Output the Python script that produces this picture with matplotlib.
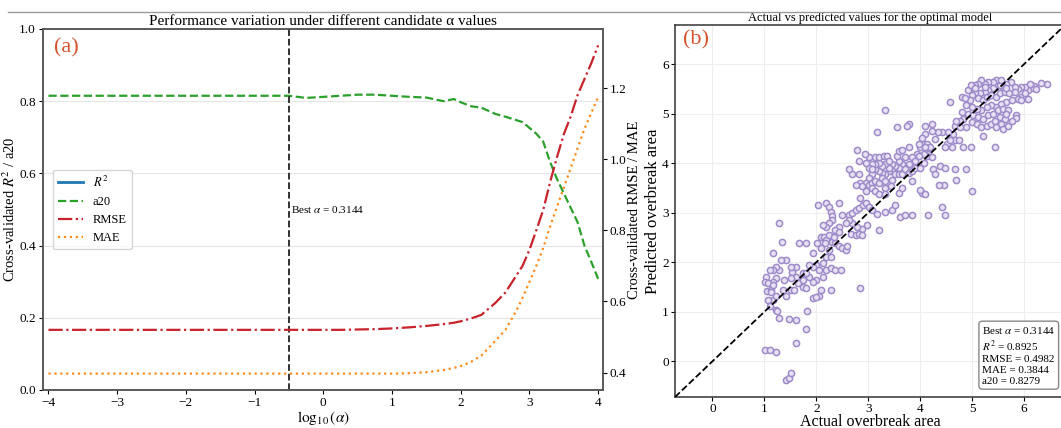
import numpy as np
import matplotlib
matplotlib.use("Agg")
import matplotlib.pyplot as plt
from matplotlib.lines import Line2D

plt.rcParams["font.family"] = ["Liberation Serif", "DejaVu Serif"]
plt.rcParams["mathtext.fontset"] = "stix"

# regularisation sweep (log10 alpha) and cross-validated scores
log_alpha = [-4, -3, -2, -1, -0.5, -0.25, 0, 0.25, 0.5, 0.75, 1.0, 1.25, 1.5, 1.75, 1.9,
             2.0, 2.15, 2.3, 2.5, 2.65, 2.8, 2.9, 3.0, 3.1, 3.2, 3.3, 3.4, 3.5, 3.6, 3.7,
             3.8, 3.9, 4.0]
cv_a20 = [0.815, 0.815, 0.815, 0.815, 0.815, 0.809, 0.812, 0.815, 0.818, 0.818, 0.815,
          0.812, 0.810, 0.800, 0.806, 0.797, 0.786, 0.782, 0.765, 0.757, 0.748, 0.742,
          0.726, 0.710, 0.688, 0.632, 0.585, 0.545, 0.505, 0.465, 0.400, 0.355, 0.308]
cv_rmse = [0.520, 0.520, 0.520, 0.520, 0.520, 0.520, 0.520, 0.520, 0.521, 0.522, 0.524,
           0.527, 0.531, 0.536, 0.540, 0.544, 0.552, 0.562, 0.595, 0.625, 0.670, 0.700,
           0.745, 0.800, 0.857, 0.935, 1.005, 1.070, 1.120, 1.180, 1.225, 1.270, 1.320]
cv_mae = [0.397, 0.397, 0.397, 0.397, 0.397, 0.397, 0.397, 0.397, 0.397, 0.397, 0.397,
          0.398, 0.401, 0.407, 0.413, 0.418, 0.430, 0.448, 0.488, 0.520, 0.570, 0.610,
          0.655, 0.700, 0.750, 0.810, 0.866, 0.920, 0.975, 1.030, 1.085, 1.130, 1.175]
best_alpha = 0.3144

# optimal model: actual vs predicted overbreak area
actual = [
    6.45, 6.32, 6.20, 6.15, 6.08, 6.01, 5.95, 5.88, 5.82, 5.74, 5.66, 5.60, 5.53, 5.47,
    5.41, 5.31, 5.25, 5.18, 5.12, 5.05, 4.99, 4.93, 5.41, 5.31, 5.25, 5.15, 5.05, 4.99,
    4.96, 5.12, 5.21, 5.28, 5.37, 5.47, 5.53, 5.63, 5.72, 5.82, 5.95, 6.04, 5.88, 5.76,
    5.66, 5.56, 5.47, 5.37, 5.28, 5.18, 5.09, 4.99, 4.93, 5.02, 5.12, 5.21, 5.31, 5.41,
    5.50, 5.60, 5.69, 4.99, 5.09, 5.18, 5.28, 5.37, 5.44, 5.53, 5.63, 5.56, 5.47, 5.85,
    5.85, 5.66, 5.60, 5.69, 5.76, 5.21, 5.44, 4.83, 4.77, 4.89, 4.67, 4.70, 4.77, 4.80,
    4.89, 4.80, 4.86, 4.98, 5.05, 5.25, 5.56, 5.66, 6.11, 6.01, 6.23, 6.08, 5.95,
    4.58, 3.33, 4.83, 4.97, 4.61, 4.51, 4.48, 4.67, 4.58, 4.74, 4.64, 4.54, 4.43, 4.35,
    4.29, 4.22, 4.22, 4.10, 4.10, 4.07, 4.13, 4.19, 4.16, 4.00, 3.94, 3.84, 3.78, 3.71,
    3.65, 3.59, 3.52, 3.46, 3.40, 3.33, 3.27, 3.20, 3.14, 3.08, 3.01, 2.95, 3.01, 3.08,
    3.14, 3.20, 3.27, 3.33, 3.46, 3.52, 3.59, 3.65, 3.71, 3.78, 3.84, 3.91, 4.00, 4.07,
    4.13, 4.24, 4.38, 4.48, 4.68, 4.89, 4.45, 4.29, 4.22, 4.07, 3.97, 3.91, 3.71, 3.60,
    3.55, 3.46, 3.40, 3.33, 3.27, 3.20, 3.14, 3.08, 3.01, 3.14, 3.20, 3.30, 3.36, 3.40,
    3.59, 3.65, 3.78, 3.97, 4.03, 4.10, 3.01, 2.95, 2.94, 2.82, 2.79, 2.84, 2.88, 2.95,
    3.08, 3.14, 3.20, 3.32, 3.43, 3.59, 3.65, 3.84, 4.03, 4.10, 4.00, 4.37, 4.70, 4.99,
    3.17, 3.55, 3.78, 3.75, 3.33, 2.76, 2.82, 3.08, 2.69, 2.63, 2.85,
    2.04, 2.18, 2.25, 2.28, 2.31, 2.44, 2.50, 2.63, 2.69, 2.76, 2.82, 2.90, 2.95, 3.01,
    3.08, 3.17, 3.20, 3.33, 3.46, 3.52, 3.62, 3.71, 3.84, 4.16, 4.42, 4.47, 2.98, 2.88,
    2.79, 2.69, 2.63, 2.57, 2.44, 2.37, 2.31, 2.25, 2.18, 2.12, 2.09, 2.15, 2.18, 2.25,
    2.31, 2.37, 2.44, 2.50, 2.57, 2.60, 2.66, 2.76, 2.82, 2.88, 2.44, 2.34, 2.25, 2.16,
    2.09, 2.02, 2.18, 2.28, 2.12, 1.99, 1.93, 1.86, 1.67, 1.80, 1.93, 2.05, 2.18, 2.28,
    2.37, 2.47, 2.12, 1.99, 1.93, 1.86, 1.74, 1.70, 1.61, 1.61, 1.54, 1.51, 1.42, 1.32,
    1.29, 1.23, 1.16, 1.10, 1.03, 1.38, 1.23, 1.16, 1.02, 1.08, 1.05, 1.13, 1.16, 1.07,
    1.11, 1.23, 1.24, 1.29, 1.48, 1.61, 1.83, 1.02, 1.10, 1.23, 1.61, 1.80, 1.42, 1.48,
    1.51, 1.28, 1.34, 1.16, 1.13, 1.23, 1.42, 1.35, 1.51, 1.58, 1.51, 1.64, 1.74, 1.80,
    1.74, 1.80, 1.93, 2.05, 2.09, 2.28, 2.85, 1.99, 1.16,
]
predicted = [
    5.61, 5.63, 5.56, 5.51, 5.48, 5.53, 5.53, 5.49, 5.53, 5.65, 5.61, 5.54, 5.58, 5.68,
    5.65, 5.65, 5.61, 5.68, 5.61, 5.58, 5.56, 5.48, 5.51, 5.48, 5.44, 5.41, 5.41, 5.37,
    5.27, 5.31, 5.27, 5.34, 5.37, 5.34, 5.41, 5.44, 5.41, 5.44, 5.34, 5.31, 5.29, 5.27,
    5.24, 5.20, 5.14, 5.17, 5.14, 5.07, 5.10, 5.14, 5.00, 4.97, 4.93, 4.90, 4.97, 5.00,
    5.07, 5.10, 5.07, 4.83, 4.80, 4.73, 4.76, 4.80, 4.86, 4.93, 4.90, 4.80, 4.74, 4.97,
    4.92, 5.00, 4.69, 4.76, 4.85, 4.56, 4.32, 4.90, 4.86, 4.73, 4.76, 4.86, 4.74, 5.03,
    5.17, 5.33, 5.31, 5.58, 5.51, 5.53, 5.68, 5.51, 5.61, 5.42, 5.49, 5.29, 5.27,
    5.24, 5.08, 4.33, 4.33, 4.32, 4.39, 4.32, 4.46, 4.46, 4.47, 4.59, 4.63, 4.63, 4.63,
    4.49, 4.66, 4.80, 4.76, 4.59, 4.39, 4.39, 4.32, 4.18, 4.32, 4.18, 4.12, 3.98, 3.91,
    3.98, 3.91, 3.95, 3.84, 3.84, 3.78, 3.81, 3.84, 3.88, 3.78, 3.71, 3.61, 3.57, 3.61,
    3.64, 3.61, 3.71, 3.64, 3.67, 3.78, 3.78, 3.78, 3.88, 3.81, 3.84, 3.91, 3.91, 4.01,
    4.15, 3.88, 3.95, 3.91, 3.88, 3.88, 3.57, 3.78, 4.12, 4.18, 4.15, 4.05, 4.12, 4.05,
    4.15, 3.98, 3.91, 3.98, 3.95, 4.01, 3.99, 3.98, 3.91, 4.12, 4.13, 4.15, 4.15, 4.05,
    4.25, 4.27, 4.32, 4.39, 4.52, 4.32, 4.12, 4.01, 4.18, 4.05, 4.27, 3.61, 3.54, 3.44,
    3.50, 3.44, 3.37, 3.50, 3.54, 3.40, 3.50, 3.64, 3.40, 3.37, 3.47, 3.57, 3.67, 3.44,
    4.63, 4.73, 4.80, 4.76, 3.37, 3.57, 3.78, 3.88, 3.78, 3.88, 3.30,
    3.15, 3.20, 3.12, 3.02, 2.93, 3.19, 2.95, 2.95, 2.99, 3.05, 3.09, 3.15, 3.19, 3.12,
    3.05, 2.97, 2.65, 3.02, 3.05, 3.15, 2.92, 2.95, 2.95, 2.95, 3.12, 2.95, 2.75, 2.68,
    2.72, 2.79, 2.85, 2.79, 2.72, 2.65, 2.85, 2.79, 2.72, 2.75, 2.52, 2.52, 2.45, 2.55,
    2.42, 2.38, 2.32, 2.28, 2.25, 2.32, 2.58, 2.55, 2.58, 2.55, 2.62, 2.52, 2.25, 2.38,
    2.28, 2.38, 2.11, 2.11, 1.98, 1.95, 1.91, 1.95, 2.38, 2.38, 2.18, 1.85, 1.85, 1.88,
    1.85, 1.85, 1.71, 1.64, 1.61, 1.71, 1.78, 1.61, 1.91, 1.71, 1.81, 1.91, 2.05, 2.05,
    1.85, 1.91, 1.85, 1.85, 1.71, 1.64, 1.68, 1.61, 1.61, 1.59, 1.43, 1.44, 1.24, 1.24,
    1.11, 1.04, 1.01, 0.87, 0.85, 0.84, 1.01, 0.23, 0.22, 0.18, 0.37, 0.65, -0.37, -0.34,
    -0.23, 2.80, 2.40, 2.19, 1.41, 1.31, 1.31, 1.44, 1.44, 1.44, 1.68, 1.58, 1.51, 1.48,
    1.64, 1.78, 1.28, 1.31, 1.44, 1.44, 1.48, 1.29, 1.54,
]
stats_text = ("Best $\\alpha$ = 0.3144\n$R^2$ = 0.8925\nRMSE = 0.4982\n"
              "MAE = 0.3844\na20 = 0.8279")

fig = plt.figure(figsize=(10.61, 4.28), dpi=100)

# thin rule along the top
fig.add_artist(Line2D([0.008, 1.0], [0.972, 0.972], color="#9a9a9a", lw=1.0))

# ---- (a) metric curves over alpha ----
ax1 = fig.add_axes([0.0405, 0.0888, 0.5278, 0.8435])
ax2 = ax1.twinx()

ax1.plot([], [], color="#1f77b4", lw=2, label="$R^2$")
ax1.plot(log_alpha, cv_a20, color="#2ca02c", ls="--", lw=1.6, label="a20")
ax2.plot(log_alpha, cv_rmse, color="#c8232c", ls="-.", lw=1.6, label="RMSE")
ax2.plot(log_alpha, cv_mae, color="#ff8c1a", ls=":", lw=1.6, label="MAE")
ax1.axvline(np.log10(best_alpha), color="#222222", ls="--", lw=1.3)
ax1.text(np.log10(best_alpha) + 0.03, 0.5, "Best $\\alpha$ = 0.3144", fontsize=8,
         va="center", ha="left")

ax1.set_xlim(-4.08, 4.07)
ax1.set_ylim(0, 1.0)
ax1.set_xticks([-4, -3, -2, -1, 0, 1, 2, 3, 4])
ax1.set_yticks([0.0, 0.2, 0.4, 0.6, 0.8, 1.0])
ax1.grid(axis="y", color="#e6e6e6", lw=0.8)
ax1.set_xlabel("$\\log_{10}(\\alpha)$", fontsize=11, labelpad=0)
ax1.set_ylabel("Cross-validated $R^2$ / a20", fontsize=10.5, labelpad=1)
ax2.set_ylabel("Cross-validated RMSE / MAE", fontsize=10.5, labelpad=1)
ax1.set_title("Performance variation under different candidate \u03b1 values",
              fontsize=11, pad=3)
ax1.text(0.02, 0.975, "(a)", transform=ax1.transAxes, fontsize=16, color="#d4532e",
         va="top", ha="left")
for ax in (ax1, ax2):
    ax.tick_params(labelsize=9.5, length=3, pad=2)
    for sp in ax.spines.values():
        sp.set_color("#555555")
        sp.set_linewidth(1.1)

h1, l1 = ax1.get_legend_handles_labels()
h2, l2 = ax2.get_legend_handles_labels()
leg = ax2.legend(h1 + h2, l1 + l2, loc="center left", fontsize=9, frameon=True,
                 borderaxespad=0.8)
leg.get_frame().set_edgecolor("#cccccc")

# ---- (b) actual vs predicted ----
ax3 = fig.add_axes([0.6362, 0.0724, 0.3676, 0.869])
lo, hi = -0.72, 6.79
ax3.scatter(actual, predicted, s=20, facecolors="#e8e1f3", edgecolors="#9f8bca",
            linewidths=1.1, zorder=3)
ax3.plot([lo, hi], [lo, hi], color="black", ls="--", lw=1.3, zorder=4)
ax3.set_xlim(lo, hi)
ax3.set_ylim(lo, hi)
ax3.set_xticks(range(0, 7))
ax3.set_yticks(range(0, 7))
ax3.grid(color="#eeeeee", lw=0.8)
ax3.set_axisbelow(True)
ax3.set_xlabel("Actual overbreak area", fontsize=11.5, labelpad=-1)
ax3.set_ylabel("Predicted overbreak area", fontsize=12, labelpad=1)
ax3.set_title("Actual vs predicted values for the optimal model", fontsize=9, pad=3)
ax3.text(0.02, 0.985, "(b)", transform=ax3.transAxes, fontsize=16, color="#d4532e",
         va="top", ha="left")
ax3.text(0.975, 0.03, stats_text, transform=ax3.transAxes, fontsize=8, ha="right",
         va="bottom", multialignment="left", linespacing=1.25,
         bbox=dict(boxstyle="round,pad=0.3", facecolor="white", edgecolor="#888888"))
ax3.tick_params(labelsize=9.5, length=3, pad=1.5)
for sp in ax3.spines.values():
    sp.set_color("#333333")
    sp.set_linewidth(1.1)

fig.savefig("out.png", dpi=100)
